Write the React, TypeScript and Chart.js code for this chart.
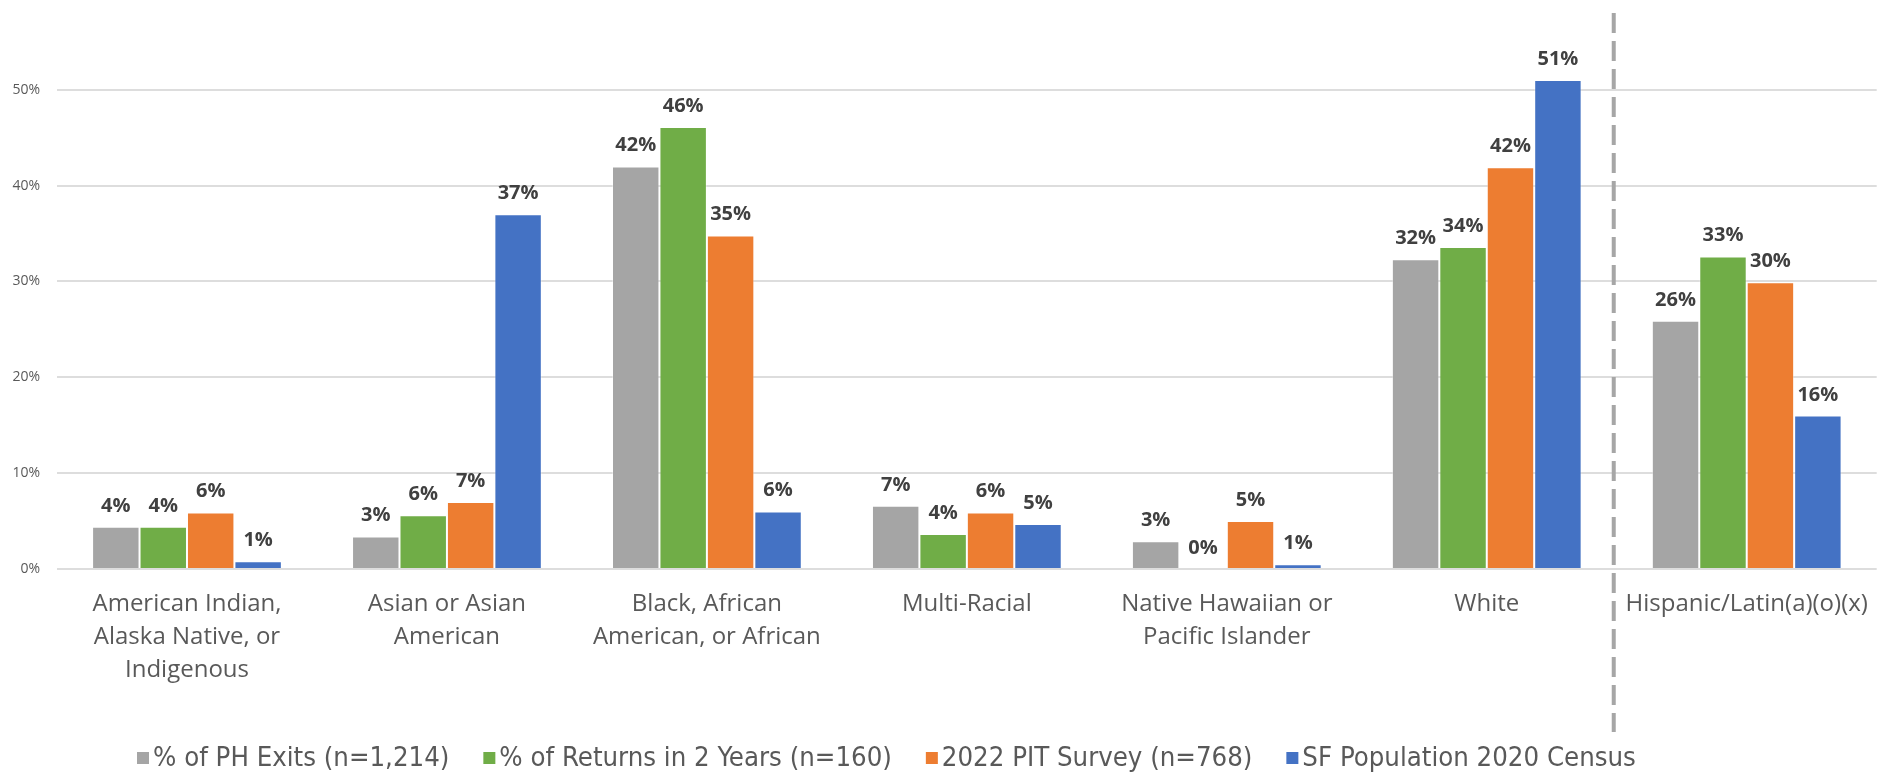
import React, { useEffect, useRef } from 'react';
import { Chart, registerables } from 'chart.js';

Chart.register(...registerables);

// Category labels (multi-line where the axis wraps them)
const categories: (string | string[])[] = [
  ['American Indian,', 'Alaska Native, or', 'Indigenous'],
  ['Asian or Asian', 'American'],
  ['Black, African', 'American, or African'],
  'Multi-Racial',
  ['Native Hawaiian or', 'Pacific Islander'],
  'White',
  'Hispanic/Latin(a)(o)(x)',
];

const seriesNames = [
  '% of PH Exits (n=1,214)',
  '% of Returns in 2 Years (n=160)',
  '2022 PIT Survey (n=768)',
  'SF Population 2020 Census',
];

// Shares in percent
const phExits = [4.4, 3.4, 42.0, 6.6, 2.9, 32.3, 25.9];
const returnsIn2Years = [4.4, 5.6, 46.1, 3.65, 0, 33.6, 32.6];
const pitSurvey2022 = [5.9, 7.0, 34.8, 5.9, 5.0, 41.9, 29.9];
const sfCensus2020 = [0.8, 37.0, 6.0, 4.7, 0.5, 51.0, 16.0];

const seriesColors = ['#A5A5A5', '#70AD47', '#ED7D31', '#4472C4'];

const yTicks = [0, 10, 20, 30, 40, 50];
const yMax = 58;

const W = 1879;
const H = 775;

const AXIS_FONT = '"Open Sans", "DejaVu Sans", sans-serif';
const LEGEND_FONT = '"Liberation Sans Narrow", "DejaVu Sans Condensed", "Liberation Sans", sans-serif';

// Bold percentage above every bar
const valueLabels = {
  id: 'valueLabels',
  afterDatasetsDraw(chart: any) {
    const { ctx } = chart;
    ctx.save();
    ctx.font = `bold 20px ${AXIS_FONT}`;
    ctx.fillStyle = '#404040';
    ctx.textAlign = 'center';
    ctx.textBaseline = 'alphabetic';
    chart.data.datasets.forEach((ds: any, i: number) => {
      const meta = chart.getDatasetMeta(i);
      meta.data.forEach((bar: any, j: number) => {
        const v = ds.data[j] as number;
        ctx.fillText(`${Math.round(v)}%`, bar.x, bar.y - 15);
      });
    });
    ctx.restore();
  },
};

// Dashed divider between the race groups and the ethnicity group
const groupDivider = {
  id: 'groupDivider',
  afterDatasetsDraw(chart: any) {
    const { ctx, chartArea } = chart;
    const xs = chart.scales.x;
    const x = (xs.getPixelForValue(5) + xs.getPixelForValue(6)) / 2 - 3;
    ctx.save();
    ctx.strokeStyle = '#A6A6A6';
    ctx.lineWidth = 4;
    ctx.setLineDash([20, 8]);
    ctx.beginPath();
    ctx.moveTo(x, chartArea.top);
    ctx.lineTo(x, 732);
    ctx.stroke();
    ctx.restore();
  },
};

// Legend row along the bottom edge
const bottomLegend = {
  id: 'bottomLegend',
  afterDraw(chart: any) {
    const { ctx } = chart;
    const y = 758;
    const box = 12;
    ctx.save();
    ctx.font = `27.3px ${LEGEND_FONT}`;
    ctx.textBaseline = 'middle';
    ctx.textAlign = 'left';
    let x = 137;
    chart.data.datasets.forEach((ds: any) => {
      ctx.fillStyle = ds.backgroundColor;
      ctx.fillRect(x, y - box / 2, box, box);
      x += box + 4;
      ctx.fillStyle = '#595959';
      ctx.fillText(ds.label, x, y + 1);
      x += ctx.measureText(ds.label).width + 34;
    });
    ctx.restore();
  },
};

export default function App() {
  const canvasRef = useRef<HTMLCanvasElement | null>(null);

  useEffect(() => {
    if (!canvasRef.current) return;
    const series = [phExits, returnsIn2Years, pitSurvey2022, sfCensus2020];
    const chart = new Chart(canvasRef.current, {
      type: 'bar',
      data: {
        labels: categories,
        datasets: series.map((values, i) => ({
          label: seriesNames[i],
          data: values,
          backgroundColor: seriesColors[i],
          borderColor: 'rgba(255,255,255,0.35)',
          borderWidth: 1,
          categoryPercentage: 0.73,
          barPercentage: 1,
        })),
      },
      options: {
        responsive: false,
        animation: false,
        layout: { padding: { top: 13, right: 2, left: 0, bottom: 0 } },
        plugins: {
          legend: { display: false },
          tooltip: { enabled: false },
        },
        scales: {
          x: {
            grid: { display: false },
            border: { display: false },
            ticks: {
              color: '#595959',
              font: { family: AXIS_FONT, size: 24, lineHeight: '33px' },
              padding: 11,
              maxRotation: 0,
              autoSkip: false,
            },
            afterFit: (s: any) => {
              s.height = 206;
            },
          },
          y: {
            min: 0,
            max: yMax,
            afterBuildTicks: (axis: any) => {
              axis.ticks = yTicks.map((v) => ({ value: v }));
            },
            grid: { color: '#DDDDDD', lineWidth: 2, drawTicks: false },
            border: { display: false },
            ticks: {
              color: '#595959',
              font: { family: AXIS_FONT, size: 14 },
              padding: 17,
              callback: (v: any) => `${v}%`,
            },
            afterFit: (s: any) => {
              s.width = 57;
              s.paddingTop = 0;
              s.paddingBottom = 0;
            },
          },
        },
      },
      plugins: [groupDivider, valueLabels, bottomLegend],
    });
    return () => chart.destroy();
  }, []);

  return (
    <div style={{ position: 'absolute', left: 0, top: 0, width: W, height: H, background: '#fff' }}>
      <canvas ref={canvasRef} width={W} height={H} style={{ display: 'block' }} />
    </div>
  );
}
